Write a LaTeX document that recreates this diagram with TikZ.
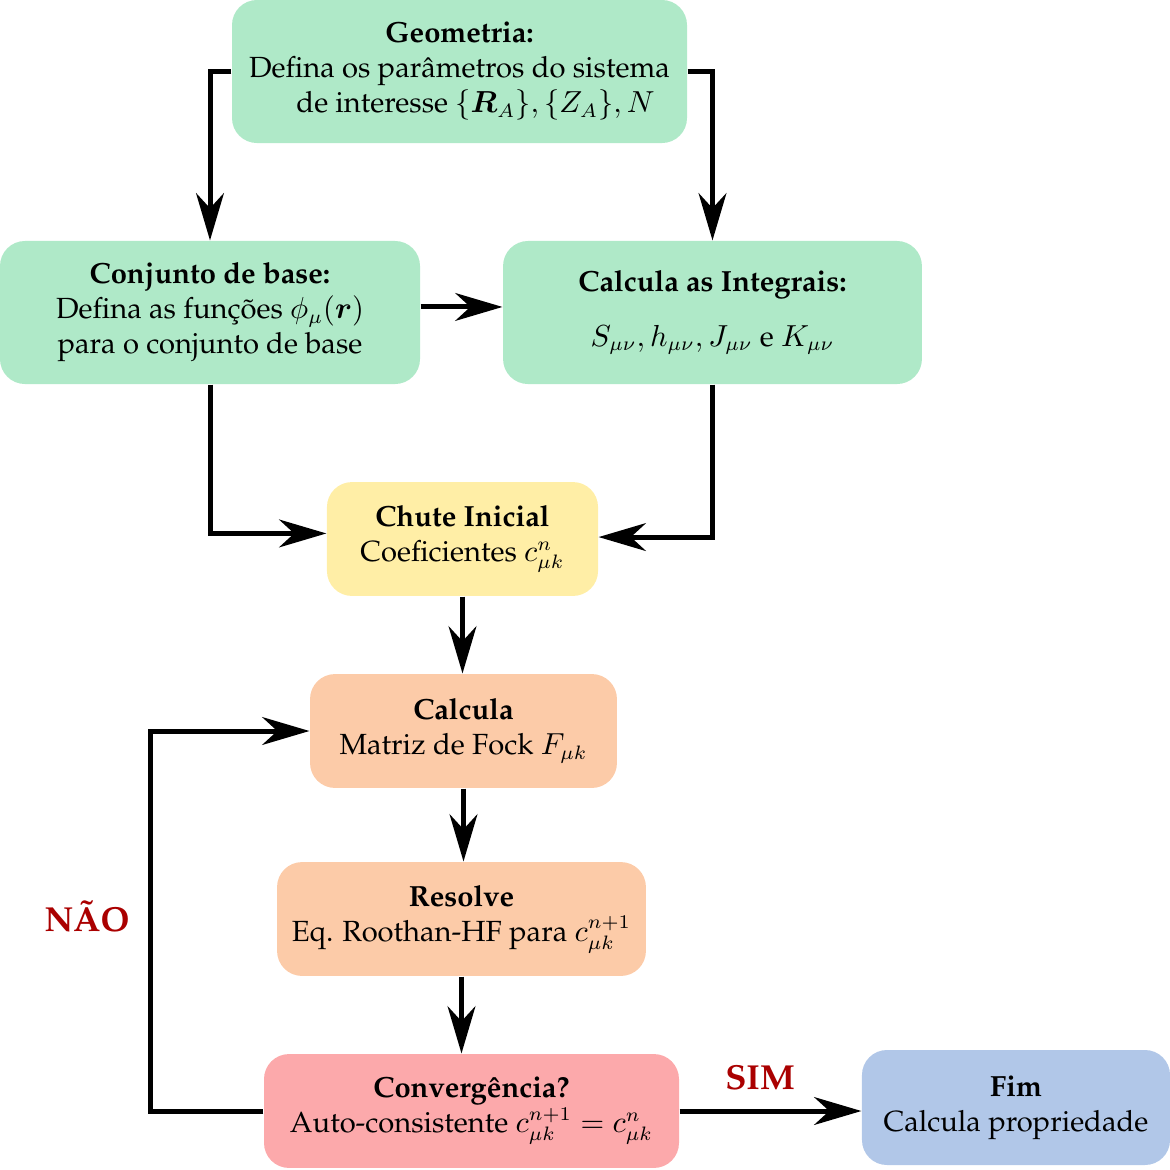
\documentclass[tikz,border=0pt]{standalone}
\usepackage[T1]{fontenc}
\renewcommand{\rmdefault}{ppl}
\usepackage{amsmath}
\usetikzlibrary{arrows.meta}
\definecolor{cgreen}{RGB}{175,233,200}
\definecolor{cyellow}{RGB}{255,238,166}
\definecolor{cpeach}{RGB}{252,203,168}
\definecolor{cred}{RGB}{252,169,171}
\definecolor{cblue}{RGB}{177,199,232}
\definecolor{clabel}{RGB}{170,0,0}
\tikzset{
  box/.style={fill=#1, draw=none, rounded corners=9pt, align=center, inner sep=0pt,
    font=\fontsize{10.5}{12.6}\selectfont},
  arr/.style={line width=1.8pt, -{Stealth[length=17pt,width=10pt,inset=5.4pt]}},
  lbl/.style={text=clabel, font=\fontsize{12.5}{15}\selectfont\bfseries},
}
\begin{document}
\begin{tikzpicture}[x=0.36pt,y=-0.36pt]
\useasboundingbox (0,0) rectangle (1170,1170);
\node[box=cgreen, minimum width=163.8pt, minimum height=51.5pt] (geo) at (459.5,71.5)
  {\textbf{Geometria:}\\ Defina os par\^ametros do sistema\\ \hspace*{1.1em}de interesse $\{\boldsymbol{R}_A\},\{Z_A\},N$};
\node[box=cgreen, minimum width=151.2pt, minimum height=51.5pt] (conj) at (210,312.5)
  {\textbf{Conjunto de base:}\\ Defina as fun\c{c}\~oes $\phi_\mu(\boldsymbol{r})$\\ para o conjunto de base};
\node[box=cgreen, minimum width=150.8pt, minimum height=51.5pt] (integ) at (712.5,312.5)
  {\textbf{Calcula as Integrais:}\\[7pt] $S_{\mu\nu},h_{\mu\nu},J_{\mu\nu}$ e $K_{\mu\nu}$};
\node[box=cyellow, minimum width=97.6pt, minimum height=41pt] (chute) at (462.5,539)
  {\textbf{Chute Inicial}\\ Coeficientes $c_{\mu k}^{n}$};
\node[box=cpeach, minimum width=110.5pt, minimum height=41pt] (fock) at (463.5,731)
  {\textbf{Calcula}\\ Matriz de Fock $F_{\mu k}$};
\node[box=cpeach, minimum width=132.8pt, minimum height=41pt] (res) at (461.5,919)
  {\textbf{Resolve}\\ Eq. Roothan-HF para $c_{\mu k}^{n+1}$};
\node[box=cred, minimum width=149.4pt, minimum height=41pt] (conv) at (471.5,1111)
  {\textbf{Converg\^encia?}\\ Auto-consistente $c_{\mu k}^{n+1}=c_{\mu k}^{n}$};
\node[box=cblue, minimum width=110.9pt, minimum height=41.4pt] (fim) at (1016,1107.5)
  {\textbf{Fim}\\ Calcula propriedade};
\coordinate (loopc) at (150,920);
\draw[arr] (geo.west) -| (conj.north);
\draw[arr] (geo.east) -| (integ.north);
\draw[arr] ([yshift=2pt]conj.east) -- ([yshift=2pt]integ.west);
\draw[arr] (conj.south) |- ([yshift=2pt]chute.west);
\draw[arr] (integ.south) |- ([yshift=0.7pt]chute.east);
\draw[arr] (chute.south) -- (chute.south |- fock.north);
\draw[arr] (fock.south) -- (fock.south |- res.north);
\draw[arr] (res.south) -- (res.south |- conv.north);
\draw[arr] (conv.west) -| (loopc) |- (fock.west);
\draw[arr] (conv.east) -- (conv.east -| fim.west);
\node[lbl] (nao) at (87,916) {N\~AO};
\node[lbl] (sim) at (760,1078) {SIM};
\end{tikzpicture}
\end{document}
